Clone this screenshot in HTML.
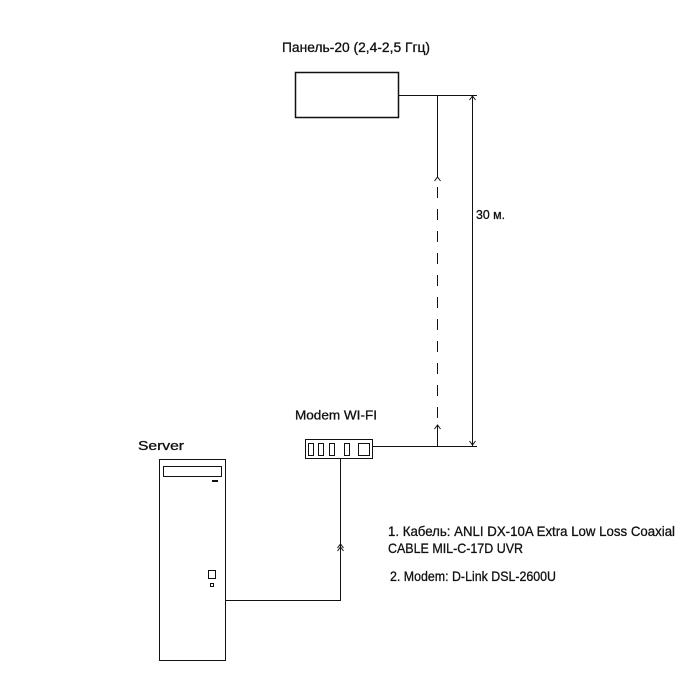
<!DOCTYPE html>
<html><head><meta charset="utf-8"><style>
html,body{margin:0;padding:0;background:#fff;}
svg{display:block;}
text{font-family:"Liberation Sans",sans-serif;fill:#111;stroke:#111;stroke-width:0.3;}
</style></head><body>
<svg width="700" height="700" viewBox="0 0 700 700" xmlns="http://www.w3.org/2000/svg">
<rect width="700" height="700" fill="#fff"/>
<g fill="none" stroke="#111" stroke-width="1">
<!-- panel -->
<rect x="295.5" y="72.5" width="103" height="45" stroke-width="1.5"/>
<line x1="398" y1="95.5" x2="477" y2="95.5"/>
<line x1="437.5" y1="95" x2="437.5" y2="178"/>
<polyline points="434.5,181 437.5,177 440.5,181"/>
<line x1="437.5" y1="187" x2="437.5" y2="420" stroke-dasharray="11,11"/>
<polyline points="434.5,429 437.5,425 440.5,429"/>
<line x1="437.5" y1="426" x2="437.5" y2="446"/>
<!-- dimension -->
<line x1="472.5" y1="95" x2="472.5" y2="446"/>
<polyline points="469.5,100 472.5,96 475.5,100"/>
<polyline points="469.5,441 472.5,445 475.5,441"/>
<line x1="372" y1="446.5" x2="477" y2="446.5"/>
<!-- modem -->
<rect x="305.5" y="439.5" width="67" height="19"/>
<rect x="308.5" y="443.5" width="5" height="12"/>
<rect x="318.5" y="443.5" width="5" height="12"/>
<rect x="329.5" y="443.5" width="5" height="12"/>
<rect x="344.5" y="443.5" width="5" height="12"/>
<rect x="358.5" y="443.5" width="11" height="12"/>
<line x1="340.5" y1="459" x2="340.5" y2="600"/>
<polyline points="337.5,548 340.5,544 343.5,548"/>
<polyline points="337.5,551 340.5,547 343.5,551"/>
<line x1="225" y1="600.5" x2="341" y2="600.5"/>
<!-- server -->
<rect x="159.5" y="459.5" width="66" height="201"/>
<rect x="163.5" y="466.5" width="58" height="10"/>
<rect x="208.5" y="570.5" width="7" height="8"/>
<rect x="210.5" y="583.5" width="3" height="3"/>
</g>
<rect x="212" y="480" width="6" height="2" fill="#111"/>
<text x="282" y="52" font-size="14" textLength="148" lengthAdjust="spacingAndGlyphs">Панель-20 (2,4-2,5 Ггц)</text>
<text x="295" y="419.5" font-size="13" textLength="82" lengthAdjust="spacingAndGlyphs">Modem WI-FI</text>
<text x="138" y="450" font-size="12.5" textLength="46" lengthAdjust="spacingAndGlyphs">Server</text>
<text x="476" y="219" font-size="12.5" textLength="29" lengthAdjust="spacingAndGlyphs">30 м.</text>
<text x="388" y="536" font-size="14" textLength="287" lengthAdjust="spacingAndGlyphs">1. Кабель: ANLI DX-10A Extra Low Loss Coaxial</text>
<text x="388" y="553" font-size="14" textLength="135" lengthAdjust="spacingAndGlyphs">CABLE MIL-C-17D UVR</text>
<text x="390" y="581" font-size="14" textLength="166" lengthAdjust="spacingAndGlyphs">2. Modem: D-Link DSL-2600U</text>
</svg>
</body></html>
